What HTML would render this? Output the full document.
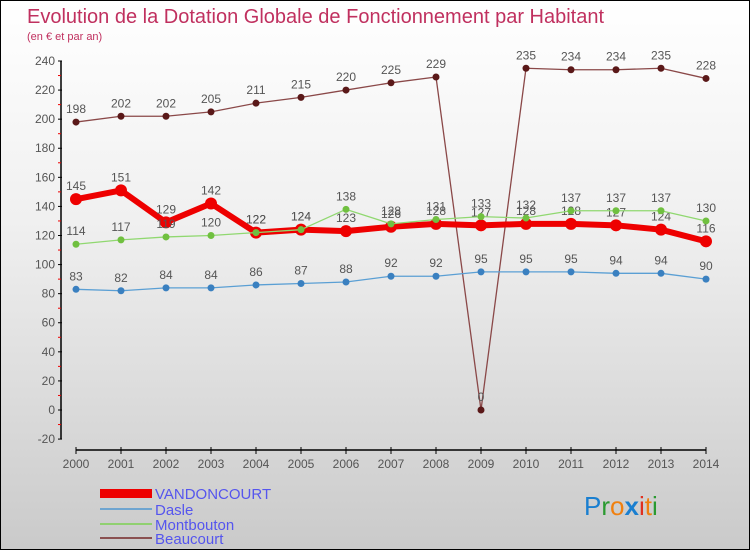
<!DOCTYPE html>
<html><head><meta charset="utf-8"><style>
body{margin:0}
#c{position:relative;width:748px;height:548px;border:1px solid #000;background:linear-gradient(#fff,#f0f0f0 40%,#cacaca);font-family:"Liberation Sans",sans-serif;overflow:hidden}
</style></head><body>
<div id="c">
<svg id="s" width="748" height="548">
<text x="26" y="22" font-size="20" fill="#c0305f">Evolution de la Dotation Globale de Fonctionnement par Habitant</text>
<text x="26" y="39" font-size="11" fill="#c0305f">(en € et par an)</text>
<g id="ax"></g><g id="ser"></g>
<g>
<rect x="99" y="488" width="52" height="9" fill="#e00"/>
<text x="154" y="498" font-size="15" fill="#5555ee">VANDONCOURT</text>
<rect x="99" y="507" width="52" height="2" fill="#6fa5d0"/>
<text x="154" y="514" font-size="15" fill="#5555ee">Dasle</text>
<rect x="99" y="522" width="52" height="2" fill="#90d070"/>
<text x="154" y="529" font-size="15" fill="#5555ee">Montbouton</text>
<rect x="99" y="536" width="52" height="2" fill="#8a5050"/>
<text x="154" y="543" font-size="15" fill="#5555ee">Beaucourt</text>
</g>
<g font-size="26" font-family="'Liberation Sans',sans-serif">
<text x="583" y="514"><tspan fill="#1a7fd0">P</tspan><tspan fill="#2a9a30">r</tspan><tspan fill="#f08010">o</tspan><tspan fill="#1a7fd0" font-weight="bold">x</tspan><tspan fill="#e03020">i</tspan><tspan fill="#f08010">t</tspan><tspan fill="#2a9a30">i</tspan></text>
</g>
</svg>
</div>
<script>
const years=[2000,2001,2002,2003,2004,2005,2006,2007,2008,2009,2010,2011,2012,2013,2014];
const vandoncourt=[145,151,129,142,122,124,123,126,128,127,128,128,127,124,116];
const dasle=[83,82,84,84,86,87,88,92,92,95,95,95,94,94,90];
const montbouton=[114,117,119,120,122,124,138,128,131,133,132,137,137,137,130];
const beaucourt=[198,202,202,205,211,215,220,225,229,0,235,234,234,235,228];
const yTicks=[-20,0,20,40,60,80,100,120,140,160,180,200,220,240];
const NS="http://www.w3.org/2000/svg";
const X=i=>75+i*45, Y=v=>409-v*1.4542;
function mk(t,a,p){const e=document.createElementNS(NS,t);for(const k in a)e.setAttribute(k,a[k]);p.appendChild(e);return e;}
const ax=document.getElementById('ax');
mk('line',{x1:60,y1:Y(240),x2:60,y2:Y(-20),stroke:'#000','stroke-width':1.5},ax);
mk('line',{x1:X(0),y1:449,x2:X(14),y2:449,stroke:'#000','stroke-width':1.5},ax);
yTicks.forEach(v=>{
 mk('line',{x1:57,y1:Y(v),x2:61,y2:Y(v),stroke:'#000'},ax);
 mk('line',{x1:57,y1:Y(v+10),x2:60,y2:Y(v+10),stroke:'#e00'},ax).style.display=v==240?'none':'';
 const t=mk('text',{x:54,y:Y(v)+4,'font-size':12,fill:'#555','text-anchor':'end'},ax);t.textContent=v;
 
 
});
years.forEach((y,i)=>{
 mk('line',{x1:X(i),y1:446,x2:X(i),y2:453,stroke:'#000'},ax);
 const t=mk('text',{x:X(i),y:467,'font-size':12,fill:'#555','text-anchor':'middle'},ax);t.textContent=y;
 
 
});
const ser=document.getElementById('ser');
function draw(name,data,col,w,r,dot){
 const g=mk('g',{},ser);
 
 
 mk('polyline',{points:data.map((v,i)=>X(i)+','+Y(v)).join(' '),fill:'none',stroke:col,'stroke-width':w,'stroke-linejoin':'round'},g);
 data.forEach((v,i)=>{
  const c=mk('circle',{cx:X(i),cy:Y(v),r:r,fill:dot},g);
  
  
  const t=mk('text',{x:X(i),y:Y(v)-9,'font-size':12,fill:'#555','text-anchor':'middle'},g);t.textContent=v;
  
  
 });
}
draw('beaucourt',beaucourt,'#8a4848',1.3,3.5,'#5a1818');
draw('dasle',dasle,'#5a9fd4',1.3,3.5,'#3a80c0');
draw('vandoncourt',vandoncourt,'#ee0000',6,6,'#ee0000');
draw('montbouton',montbouton,'#90d870',1.3,3.5,'#70c040');
</script>
</body></html>
